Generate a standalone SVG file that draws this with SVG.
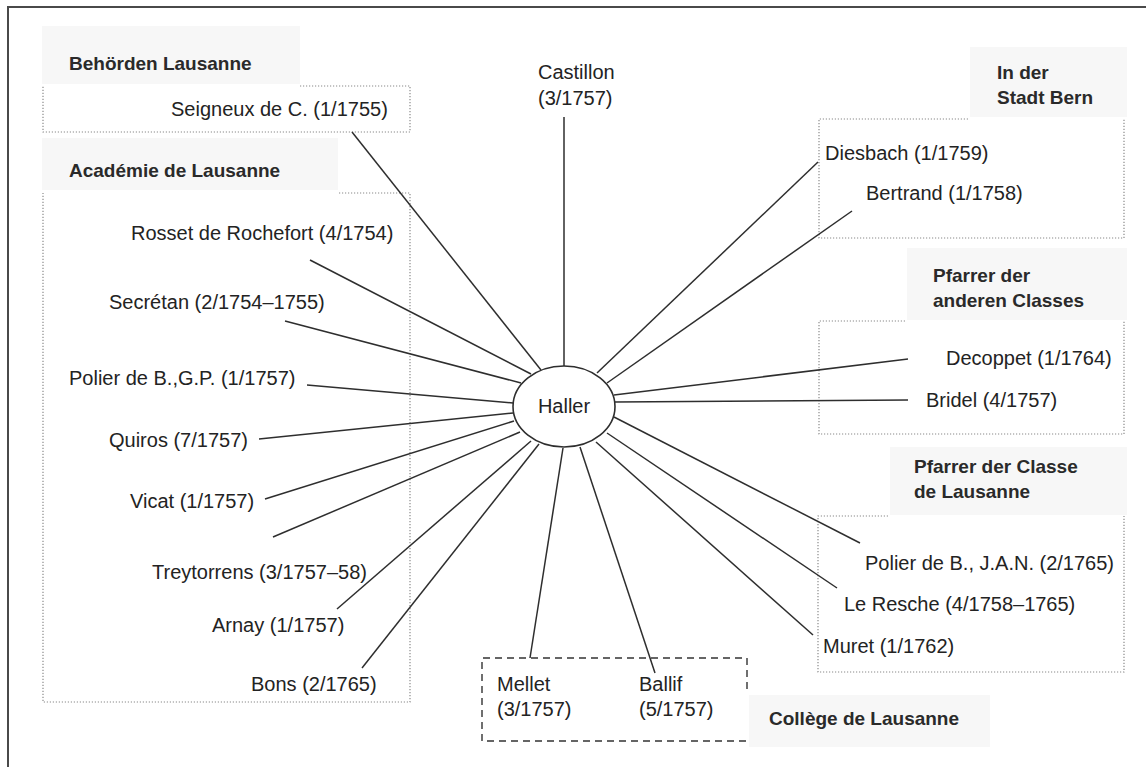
<svg xmlns="http://www.w3.org/2000/svg" width="1146" height="767" viewBox="0 0 1146 767">
<style>
  .lbl { font-family: "Liberation Sans", Arial, Helvetica, sans-serif; font-size: 20px; fill: #232323; }
  .hd { font-family: "Liberation Sans", Arial, Helvetica, sans-serif; font-size: 19px; font-weight: bold; fill: #2a2a2a; }
  .dot { fill: none; stroke: #8a8a8a; stroke-width: 1.2; stroke-dasharray: 1.2 1.8; }
  .dash { fill: none; stroke: #333; stroke-width: 1.4; stroke-dasharray: 7 5; }
  .patch { fill: #f7f7f7; }
  .conn line { stroke: #2e2e2e; stroke-width: 1.5; }
</style>
<rect x="0" y="0" width="1146" height="767" fill="#ffffff"/>
<path d="M8,767 V7 H1146" fill="none" stroke="#4a4a4a" stroke-width="2"/>

<!-- heading background patches -->
<rect class="patch" x="42" y="26" width="258" height="58"/>
<rect class="patch" x="42" y="138" width="296" height="52"/>
<rect class="patch" x="970" y="47" width="157" height="70"/>
<rect class="patch" x="907" y="248" width="220" height="72"/>
<rect class="patch" x="890" y="447" width="237" height="68"/>
<rect class="patch" x="749" y="695" width="241" height="52" fill="#f1f1f1"/>

<!-- group boxes -->
<g id="grp-behoerden">
  <path class="dot" d="M300,86 H410 V132 H43 V86"/>
  <text class="hd" x="69" y="70">Behörden Lausanne</text>
</g>
<g id="grp-academie">
  <path class="dot" d="M339,193 H410 V702 H43 V193"/>
  <text class="hd" x="69" y="177">Académie de Lausanne</text>
</g>
<g id="grp-bern">
  <path class="dot" d="M968,119 H819 V238 H1124 V119"/>
  <text class="hd" x="997" y="79">In der</text>
  <text class="hd" x="997" y="104">Stadt Bern</text>
</g>
<g id="grp-anderen">
  <path class="dot" d="M905,321 H819 V434 H1124 V321"/>
  <text class="hd" x="933" y="282">Pfarrer der</text>
  <text class="hd" x="933" y="307">anderen Classes</text>
</g>
<g id="grp-classe">
  <path class="dot" d="M888,516 H818 V672 H1124 V516"/>
  <text class="hd" x="914" y="473">Pfarrer der Classe</text>
  <text class="hd" x="914" y="498">de Lausanne</text>
</g>
<g id="grp-college">
  <path class="dash" d="M747,689 V658 H482 V741 H746"/>
  <text class="hd" x="769" y="725">Collège de Lausanne</text>
</g>

<!-- connectors -->
<g id="connectors" class="conn">
  <line x1="352" y1="132" x2="541" y2="370"/>
  <line x1="564" y1="117" x2="564" y2="366"/>
  <line x1="310" y1="260" x2="531" y2="374"/>
  <line x1="285" y1="321" x2="521" y2="383"/>
  <line x1="307" y1="385" x2="513" y2="403"/>
  <line x1="259" y1="439" x2="513" y2="413"/>
  <line x1="265" y1="499" x2="514" y2="421"/>
  <line x1="273" y1="537" x2="520" y2="432"/>
  <line x1="337" y1="609" x2="531" y2="441"/>
  <line x1="362" y1="668" x2="539" y2="444"/>
  <line x1="530" y1="658" x2="563" y2="448"/>
  <line x1="655" y1="673" x2="580" y2="447"/>
  <line x1="813" y1="635" x2="596" y2="442"/>
  <line x1="837" y1="588" x2="607" y2="433"/>
  <line x1="860" y1="543" x2="614" y2="417"/>
  <line x1="908" y1="400" x2="615" y2="402"/>
  <line x1="908" y1="359" x2="614" y2="395"/>
  <line x1="852" y1="211" x2="607" y2="383"/>
  <line x1="818" y1="162" x2="597" y2="373"/>
</g>

<!-- central node -->
<g id="haller">
  <ellipse cx="564" cy="406.5" rx="51" ry="40.5" fill="#fff" stroke="#2e2e2e" stroke-width="1.6"/>
  <text class="lbl" x="564" y="413" text-anchor="middle">Haller</text>
</g>

<!-- person nodes -->
<g id="n-seigneux"><text class="lbl" x="171" y="116">Seigneux de C. (1/1755)</text></g>
<g id="n-castillon"><text class="lbl" x="538" y="79">Castillon</text><text class="lbl" x="538" y="105">(3/1757)</text></g>
<g id="n-rosset"><text class="lbl" x="131" y="240">Rosset de Rochefort (4/1754)</text></g>
<g id="n-secretan"><text class="lbl" x="109" y="309">Secrétan (2/1754–1755)</text></g>
<g id="n-polier-gp"><text class="lbl" x="69" y="385">Polier de B.,G.P. (1/1757)</text></g>
<g id="n-quiros"><text class="lbl" x="109" y="447">Quiros (7/1757)</text></g>
<g id="n-vicat"><text class="lbl" x="130" y="508">Vicat (1/1757)</text></g>
<g id="n-treytorrens"><text class="lbl" x="152" y="579">Treytorrens (3/1757–58)</text></g>
<g id="n-arnay"><text class="lbl" x="212" y="632">Arnay (1/1757)</text></g>
<g id="n-bons"><text class="lbl" x="251" y="691">Bons (2/1765)</text></g>
<g id="n-mellet"><text class="lbl" x="497" y="691">Mellet</text><text class="lbl" x="497" y="716">(3/1757)</text></g>
<g id="n-ballif"><text class="lbl" x="639" y="691">Ballif</text><text class="lbl" x="639" y="716">(5/1757)</text></g>
<g id="n-diesbach"><text class="lbl" x="825" y="160">Diesbach (1/1759)</text></g>
<g id="n-bertrand"><text class="lbl" x="866" y="200">Bertrand (1/1758)</text></g>
<g id="n-decoppet"><text class="lbl" x="946" y="365">Decoppet (1/1764)</text></g>
<g id="n-bridel"><text class="lbl" x="926" y="407">Bridel (4/1757)</text></g>
<g id="n-polier-jan"><text class="lbl" x="865" y="570">Polier de B., J.A.N. (2/1765)</text></g>
<g id="n-leresche"><text class="lbl" x="844" y="611">Le Resche (4/1758–1765)</text></g>
<g id="n-muret"><text class="lbl" x="823" y="653">Muret (1/1762)</text></g>
</svg>
